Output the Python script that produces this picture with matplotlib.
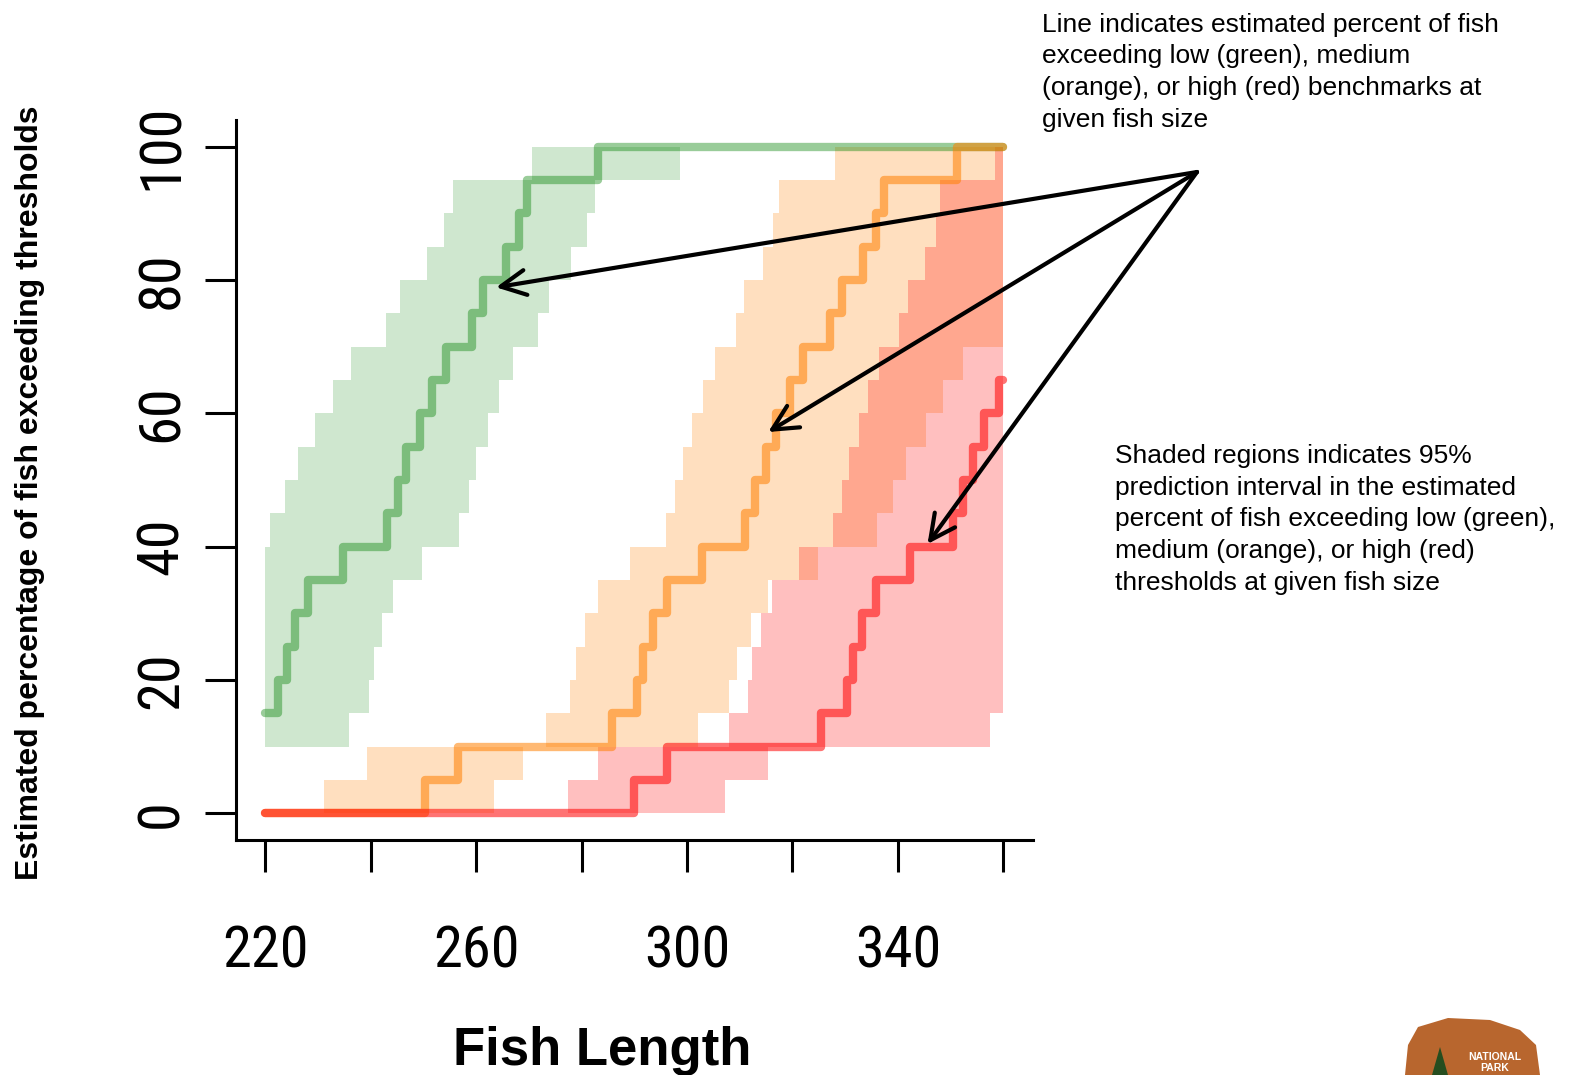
import matplotlib
matplotlib.use("Agg")
import matplotlib.pyplot as plt
from matplotlib import font_manager
from matplotlib.patches import Polygon
from matplotlib.transforms import IdentityTransform

# ---------------------------------------------------------------- data
length_range = [220, 360]
x_ticks = [220, 240, 260, 280, 300, 320, 340, 360]
x_tick_labels = ["220", "", "260", "", "300", "", "340", ""]
y_ticks = [0, 20, 40, 60, 80, 100]
y_tick_labels = ["0", "20", "40", "60", "80", "100"]
band_height = 5

# estimated percent exceeding each benchmark (step changes along fish length)
green_x = [220, 222.5, 224.1, 225.7, 228.2, 234.8, 243.1, 245.3, 246.8, 249.3,
           251.6, 254.3, 259.3, 261.4, 265.7, 268.2, 269.6, 283.2]
green_y = [15, 20, 25, 30, 35, 40, 45, 50, 55, 60, 65, 70, 75, 80, 85, 90, 95, 100]

orange_x = [220, 250.3, 256.5, 285.8, 290.5, 291.7, 293.6, 296.2, 302.9, 311.0,
            312.9, 314.9, 316.8, 319.5, 322.0, 327.1, 329.3, 333.4, 335.9, 337.3, 351.1]
orange_y = [0, 5, 10, 15, 20, 25, 30, 35, 40, 45, 50, 55, 60, 65, 70, 75, 80, 85,
            90, 95, 100]

red_x = [220, 290.0, 296.2, 325.5, 330.3, 331.5, 333.1, 335.9, 342.3, 350.5,
         352.4, 354.3, 356.3, 359.2]
red_y = [0, 5, 10, 15, 20, 25, 30, 35, 40, 45, 50, 55, 60, 65]

# 95% prediction interval: for each 5% level, the fish-length range covered
green_band_level = [10, 15, 20, 25, 30, 35, 40, 45, 50, 55, 60, 65, 70, 75, 80, 85, 90, 95]
green_band_left = [220, 220, 220, 220, 220, 220, 220.9, 223.8, 226.3, 229.5, 232.8,
                   236.3, 242.9, 245.6, 250.8, 254.0, 255.7, 270.7]
green_band_right = [235.9, 239.7, 240.7, 242.2, 244.3, 249.8, 256.7, 258.6, 260.0,
                    262.2, 264.4, 267.0, 271.8, 273.9, 278.1, 281.1, 282.6, 298.7]

orange_band_level = [0, 5, 10, 15, 20, 25, 30, 35, 40, 45, 50, 55, 60, 65, 70, 75,
                     80, 85, 90, 95]
orange_band_left = [231.2, 239.3, 273.3, 277.8, 278.9, 280.7, 283.2, 289.2, 296.0,
                    297.7, 299.2, 301.0, 303.1, 305.3, 309.3, 310.9, 314.5, 316.4,
                    317.5, 328.1]
orange_band_right = [263.4, 269.0, 302.0, 308.0, 309.5, 312.1, 315.4, 324.8, 336.0,
                     339.1, 341.5, 345.3, 348.6, 352.4, 360, 360, 360, 360, 360, 360]

red_band_level = [0, 5, 10, 15, 20, 25, 30, 35, 40, 45, 50, 55, 60, 65, 70, 75, 80,
                  85, 90, 95]
red_band_left = [277.5, 283.2, 308.0, 311.6, 312.4, 314.0, 316.2, 321.3, 327.6,
                 329.4, 330.8, 332.6, 334.4, 336.4, 340.2, 341.9, 345.1, 347.2,
                 348.0, 358.4]
red_band_right = [307.3, 315.4, 357.4, 360, 360, 360, 360, 360, 360, 360, 360, 360,
                  360, 360, 360, 360, 360, 360, 360, 360]

# arrow targets on the curves (fish length, percent)
arrow_targets = [(263.8, 78.9), (315.4, 57.2), (345.6, 40.4)]

note_lines = ["Line indicates estimated percent of fish",
              "exceeding low (green), medium",
              "(orange), or high (red) benchmarks at",
              "given fish size"]
shade_lines = ["Shaded regions indicates 95%",
               "prediction interval in the estimated",
               "percent of fish exceeding low (green),",
               "medium (orange), or high (red)",
               "thresholds at given fish size"]

# ---------------------------------------------------------------- style
GREEN = (0.0, 0.5, 0.0)
ORANGE = (1.0, 0.5, 0.0)
RED = (1.0, 0.0, 0.0)

names = {f.name for f in font_manager.fontManager.ttflist}
plt.rcParams["font.family"] = ["Liberation Sans", "DejaVu Sans"]

# narrow face for the tick numbers, if one is installed
tick_family, tick_size = ["Liberation Sans"], 36
for cand, size in (("Liberation Sans Narrow", 42), ("Roboto Condensed", 42),
                   ("DejaVu Sans Condensed", 40), ("Open Sans Condensed", 42)):
    if cand in names:
        tick_family, tick_size = [cand], size
        break

W, H = 1570, 1075
fig = plt.figure(figsize=(W / 100, H / 100), dpi=100)
ax = fig.add_axes([235.5 / W, 235 / H, 797.5 / W, 720 / H])

pad_x = 0.04 * (length_range[1] - length_range[0])
ax.set_xlim(length_range[0] - pad_x, length_range[1] + pad_x)
ax.set_ylim(-4, 104)


def draw_band(levels, left, right, color, alpha):
    y = list(levels) + [levels[-1] + band_height]
    x1 = list(left) + [left[-1]]
    x2 = list(right) + [right[-1]]
    ax.fill_betweenx(y, x1, x2, step="post", color=color, alpha=alpha,
                     linewidth=0, zorder=1)


def draw_curve(xs, ys, color, alpha):
    x = list(xs) + [length_range[1]]
    y = list(ys) + [ys[-1]]
    ax.step(x, y, where="post", color=color, alpha=alpha, lw=6.0,
            solid_capstyle="round", solid_joinstyle="round", zorder=2)


draw_band(green_band_level, green_band_left, green_band_right, GREEN, 0.19)
draw_band(orange_band_level, orange_band_left, orange_band_right, ORANGE, 0.25)
draw_band(red_band_level, red_band_left, red_band_right, RED, 0.25)

draw_curve(green_x, green_y, GREEN, 0.4)
draw_curve(orange_x, orange_y, ORANGE, 0.55)
draw_curve(red_x, red_y, RED, 0.55)

# axes
for side in ("top", "right"):
    ax.spines[side].set_visible(False)
for side in ("left", "bottom"):
    ax.spines[side].set_linewidth(2.2)
ax.set_xticks(x_ticks)
ax.set_xticklabels(x_tick_labels, family=tick_family, fontsize=tick_size)
ax.set_yticks(y_ticks)
ax.set_yticklabels(y_tick_labels, family=tick_family, fontsize=tick_size,
                   rotation=90, va="center")
ax.tick_params(axis="x", length=23, width=2.2, pad=38 + (42 - tick_size) * 0.3)
ax.tick_params(axis="y", length=22, width=2.2, pad=11 + (42 - tick_size) * 0.3)


def fx(px):
    return px / W


def fy(py):
    return 1 - py / H


fig.text(fx(30), fy(493), "Estimated percentage of fish exceeding thresholds",
         rotation=90, ha="center", va="center", fontsize=23, fontweight="bold")
fig.text(fx(602), fy(1065), "Fish Length", ha="center", va="baseline",
         fontsize=38, fontweight="bold")

for i, line in enumerate(note_lines):
    fig.text(fx(1042), fy(32 + 31.5 * i), line, ha="left", va="baseline",
             fontsize=19)
for i, line in enumerate(shade_lines):
    fig.text(fx(1115), fy(463 + 31.7 * i), line, ha="left", va="baseline",
             fontsize=19)

# arrows from the note to each curve
for tx, ty in arrow_targets:
    ax.annotate("", xy=(tx, ty), xycoords="data",
                xytext=(1197, H - 172), textcoords="figure pixels",
                arrowprops=dict(arrowstyle="->,head_length=1.8,head_width=0.9",
                                lw=3, color="black", shrinkA=0, shrinkB=0),
                annotation_clip=False, zorder=5)

# small park emblem in the corner
emblem = Polygon([(1405, 0), (1408, 30), (1418, 48), (1448, 57), (1490, 55),
                  (1520, 45), (1536, 30), (1540, 0)], closed=True,
                 facecolor=(0.72, 0.40, 0.18), edgecolor="none",
                 transform=IdentityTransform())
fig.patches.append(emblem)
tree = Polygon([(1432, 0), (1440, 28), (1448, 0)], closed=True,
               facecolor=(0.15, 0.3, 0.12), edgecolor="none",
               transform=IdentityTransform())
fig.patches.append(tree)
fig.text(fx(1495), fy(1060), "NATIONAL", ha="center", va="baseline",
         fontsize=7.5, fontweight="bold", color="white")
fig.text(fx(1495), fy(1071), "PARK", ha="center", va="baseline",
         fontsize=7.5, fontweight="bold", color="white")

fig.savefig("out.png", dpi=100)
